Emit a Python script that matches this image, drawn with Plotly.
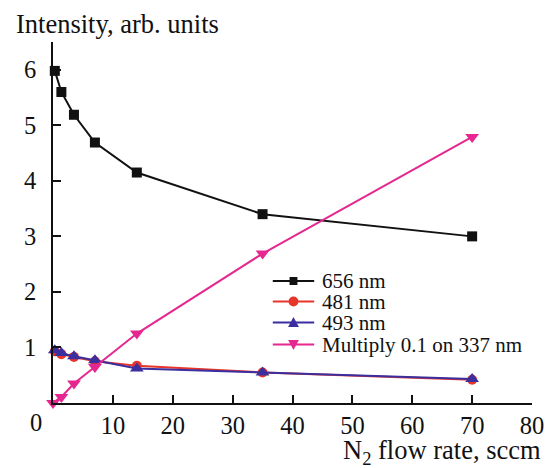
import plotly.graph_objects as go

flow = [0.3, 1.4, 3.5, 7, 14, 35, 70]
i656 = [5.98, 5.6, 5.19, 4.69, 4.15, 3.40, 3.0]
i481 = [0.93, 0.88, 0.83, 0.75, 0.67, 0.55, 0.42]
i493 = [0.95, 0.90, 0.84, 0.77, 0.62, 0.55, 0.43]
i337 = [0.0, 0.11, 0.35, 0.65, 1.25, 2.69, 4.79]
x337 = [0.0, 1.4, 3.5, 7, 14, 35, 70]

xticks = [10, 20, 30, 40, 50, 60, 70, 80]
yticks = [1, 2, 3, 4, 5, 6]

names = ["656 nm", "481 nm", "493 nm", "Multiply 0.1 on 337 nm"]
colors = ["#111111", "#e8352a", "#3b2e9e", "#e5278f"]
symbols = ["square", "circle", "triangle-up", "triangle-down"]

FONT = "Liberation Serif"
TICK = 24.5

W, H = 556, 468
ML, MR, MT, MB = 53, 17, 42, 65
PW, PH = W - ML - MR, H - MT - MB


def px(xp):
    return (xp - ML) / PW


def py(yp):
    return (H - MB - yp) / PH


fig = go.Figure()
series = [(flow, i656), (flow, i481), (flow, i493), (x337, i337)]
for (xs, ys), n, c, s in zip(series, names, colors, symbols):
    fig.add_trace(go.Scatter(
        x=xs, y=ys, name=n, mode="lines+markers",
        line=dict(color=c, width=2),
        marker=dict(symbol=s, size=12 if "triangle" in s else 10, color=c),
        cliponaxis=False, showlegend=False,
    ))

# custom compact legend (layout elements)
shapes = []
annotations = []
row_y = [281, 301.5, 322.5, 344.5]
lx0, lx1, mx, tx = 276, 318, 297, 324
for ry, n, c, s in zip(row_y, names, colors, symbols):
    shapes.append(dict(type="line", xref="paper", yref="paper",
                       x0=px(lx0), x1=px(lx1), y0=py(ry), y1=py(ry),
                       line=dict(color=c, width=2)))
    if s == "square":
        r = 4
        shapes.append(dict(type="rect", xref="paper", yref="paper",
                           x0=px(mx - r), x1=px(mx + r), y0=py(ry + r), y1=py(ry - r),
                           fillcolor=c, line=dict(width=0)))
    elif s == "circle":
        r = 5
        shapes.append(dict(type="circle", xref="paper", yref="paper",
                           x0=px(mx - r), x1=px(mx + r), y0=py(ry + r), y1=py(ry - r),
                           fillcolor=c, line=dict(width=0)))
    else:
        r = 5.5
        if s == "triangle-up":
            pts = [(mx - r, ry + r * 0.8), (mx + r, ry + r * 0.8), (mx, ry - r)]
        else:
            pts = [(mx - r, ry - r * 0.8), (mx + r, ry - r * 0.8), (mx, ry + r)]
        path = "M " + " L ".join(f"{px(a):.5f},{py(b):.5f}" for a, b in pts) + " Z"
        shapes.append(dict(type="path", xref="paper", yref="paper", path=path,
                           fillcolor=c, line=dict(width=0)))
    annotations.append(dict(text=n, xref="paper", yref="paper",
                            x=px(tx), y=py(ry), xanchor="left", yanchor="middle",
                            showarrow=False,
                            font=dict(family=FONT, size=21, color="#111")))

annotations += [
    dict(text="0", xref="paper", yref="paper", x=0, y=0,
         xanchor="center", yanchor="top", xshift=-17, yshift=-4,
         showarrow=False, font=dict(family=FONT, size=TICK, color="#111")),
    dict(text="Intensity, arb. units", xref="paper", yref="paper",
         x=px(13), y=1.0, xanchor="left", yanchor="bottom", yshift=1,
         showarrow=False, font=dict(family=FONT, size=26.5, color="#111")),
    dict(text="N<sub>2</sub> flow rate, sccm", xref="paper", yref="paper",
         x=px(550), y=0, xanchor="right", yanchor="top", yshift=-30,
         showarrow=False, font=dict(family=FONT, size=26.5, color="#111")),
]

fig.update_layout(
    width=W, height=H,
    margin=dict(l=ML, r=MR, t=MT, b=MB),
    paper_bgcolor="white", plot_bgcolor="white",
    font=dict(family=FONT, size=TICK, color="#111"),
    showlegend=False,
    xaxis=dict(range=[0, 80], tickvals=xticks,
               ticks="inside", ticklen=8, tickwidth=1.5, tickcolor="#111",
               showline=True, linecolor="#111", linewidth=1.5,
               showgrid=False, zeroline=False, mirror=False,
               tickfont=dict(family=FONT, size=TICK, color="#111")),
    yaxis=dict(range=[0, 6.5], tickvals=yticks,
               ticks="inside", ticklen=8, tickwidth=1.5, tickcolor="#111",
               showline=True, linecolor="#111", linewidth=1.5,
               showgrid=False, zeroline=False, mirror=False,
               ticklabelstandoff=10,
               tickfont=dict(family=FONT, size=TICK, color="#111")),
    shapes=shapes,
    annotations=annotations,
)

fig.write_html("out.html")
